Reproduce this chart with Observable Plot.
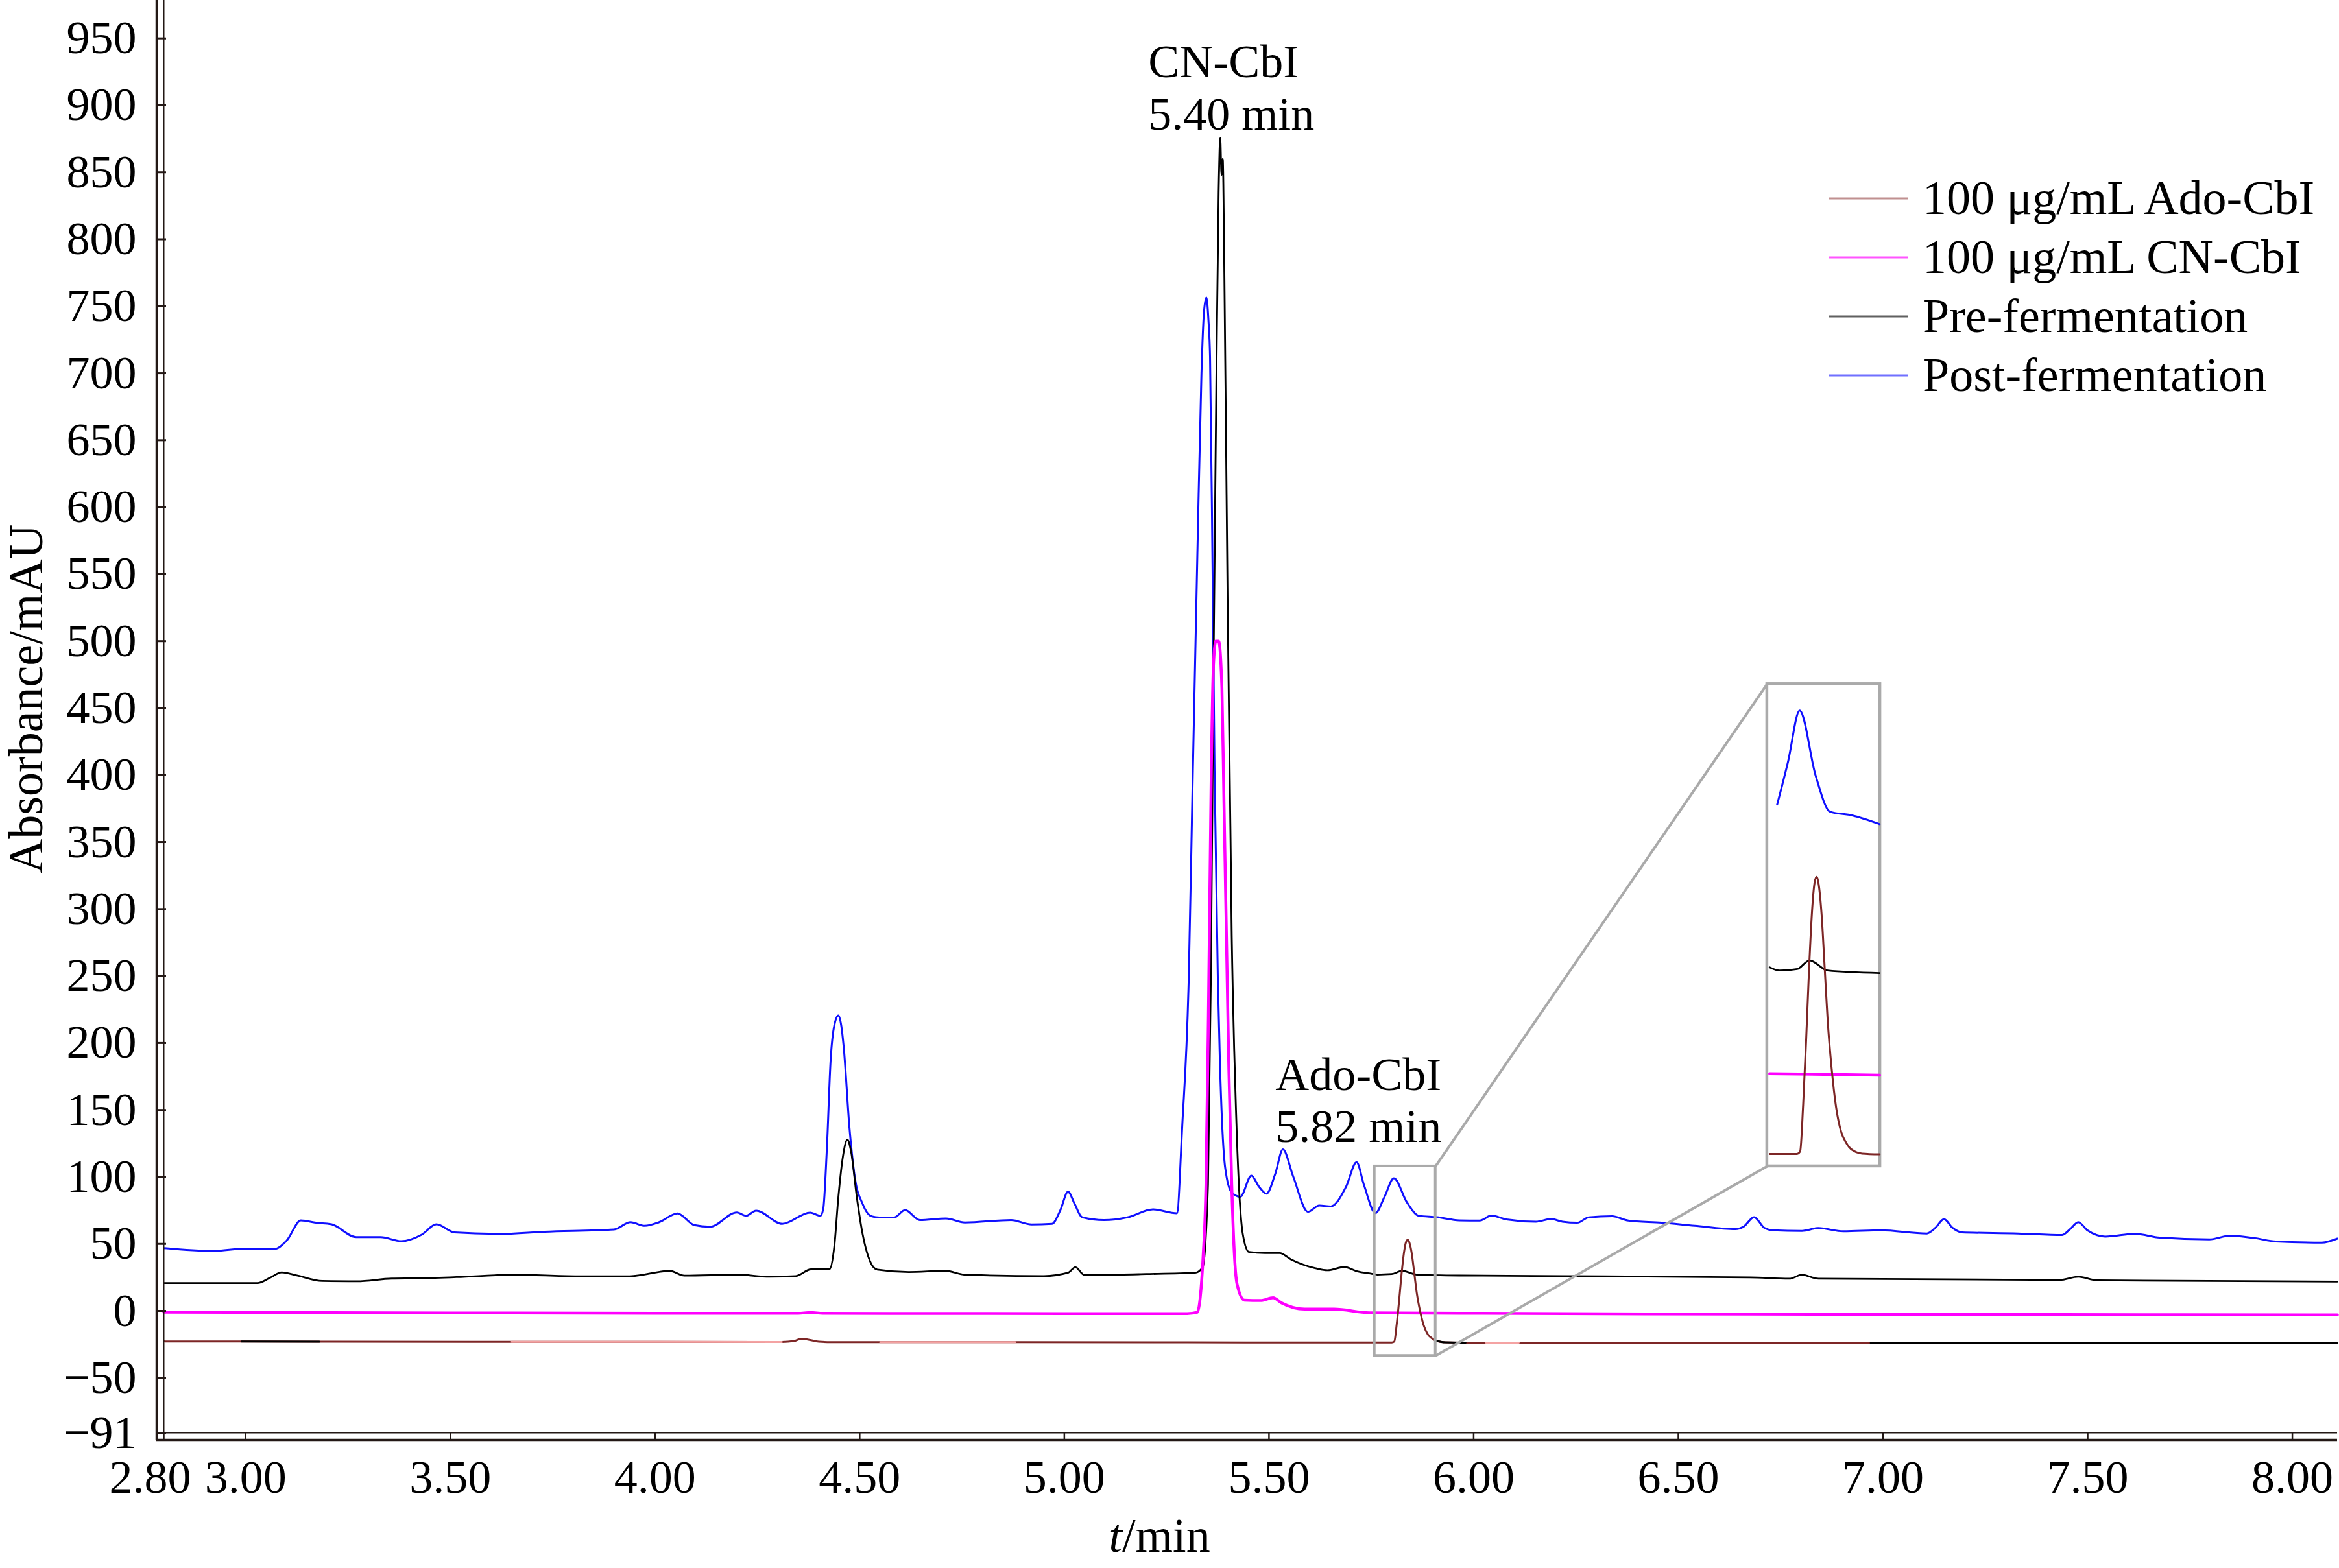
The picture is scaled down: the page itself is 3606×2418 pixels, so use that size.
<!DOCTYPE html>
<html><head><meta charset="utf-8">
<script src="https://cdn.jsdelivr.net/npm/d3@7"></script>
<script src="https://cdn.jsdelivr.net/npm/@observablehq/plot@0.6"></script>
<style>html,body{margin:0;padding:0;background:#fff}</style>
</head><body><div id="chart"></div>
<script>
// ---------- DATA (time in min, absorbance in mAU) ----------
const seriesNames = ["100 μg/mL Ado-CbI", "100 μg/mL CN-CbI", "Pre-fermentation", "Post-fermentation"];
const xTicks = [2.8, 3.0, 3.5, 4.0, 4.5, 5.0, 5.5, 6.0, 6.5, 7.0, 7.5, 8.0];
const yTicks = [-91, -50, 0, 50, 100, 150, 200, 250, 300, 350, 400, 450, 500, 550, 600, 650, 700, 750, 800, 850, 900, 950];

const postFermentation = [[2.80,46.9],[2.92,44.7],[3.00,46.5],[3.07,46.2],[3.10,52.4],[3.135,67.5],[3.175,65.7],[3.21,64.6],[3.27,55.1],[3.33,55.1],[3.38,52.0],[3.43,56.9],[3.466,64.6],[3.51,58.6],[3.62,57.5],[3.73,59.1],[3.90,60.8],[3.94,66.2],[3.975,63.5],[4.01,66.2],[4.055,72.8],[4.096,64.0],[4.134,62.8],[4.20,73.5],[4.222,71.0],[4.247,74.8],[4.311,65.0],[4.379,73.4],[4.404,71.0],[4.411,76.0],[4.420,122],[4.429,187],[4.438,213],[4.448,220.5],[4.455,213],[4.461,197],[4.475,137],[4.488,100],[4.507,80],[4.529,70.6],[4.548,69.7],[4.584,69.7],[4.611,75.3],[4.647,67.8],[4.711,69.0],[4.757,66.0],[4.87,67.8],[4.92,64.5],[4.97,65.0],[4.99,75],[5.009,89],[5.025,80],[5.043,70],[5.097,67.8],[5.156,70],[5.216,75.8],[5.275,72.9],[5.288,137.7],[5.304,249],[5.314,403],[5.325,564],[5.335,700],[5.341,745],[5.347,756.5],[5.352,740],[5.356,712],[5.362,557.6],[5.367,403],[5.375,249],[5.380,187],[5.393,106.8],[5.409,88.3],[5.43,85.2],[5.457,101],[5.475,93],[5.494,87.5],[5.515,102],[5.534,120.5],[5.559,100.5],[5.595,74],[5.623,78.7],[5.651,78],[5.688,92.5],[5.714,111],[5.732,94],[5.76,73],[5.782,85],[5.805,99],[5.837,81],[5.866,71],[5.91,70],[5.965,67.6],[6.015,67.4],[6.043,71.2],[6.08,68.3],[6.152,66.6],[6.189,68.6],[6.217,66.6],[6.253,65.8],[6.281,69.9],[6.338,70.7],[6.378,67.4],[6.459,65.8],[6.54,63.5],[6.639,61],[6.66,63],[6.685,70],[6.71,62],[6.731,60.2],[6.802,59.7],[6.842,61.8],[6.903,59.4],[6.995,60.2],[7.107,57.8],[7.128,62],[7.149,68.5],[7.17,62],[7.193,58.6],[7.33,57.8],[7.437,56.6],[7.457,61],[7.477,66.2],[7.50,60],[7.543,55.5],[7.615,57.5],[7.676,54.7],[7.797,53.4],[7.848,56.2],[7.909,54.3],[7.96,51.8],[8.072,51],[8.11,54]];

const preFermentation = [[2.80,20.8],[3.03,20.8],[3.06,24.8],[3.088,28.8],[3.127,26.3],[3.187,22.3],[3.272,22.1],[3.357,24.1],[3.418,24.3],[3.515,25.2],[3.66,27],[3.805,25.9],[3.939,25.9],[4.036,29.9],[4.072,26.3],[4.20,27],[4.28,25.5],[4.344,26],[4.381,31],[4.426,31],[4.438,48],[4.448,85],[4.458,113],[4.47,127.7],[4.479,119],[4.493,85],[4.507,57.6],[4.525,37.3],[4.543,30.8],[4.62,29],[4.71,29.9],[4.757,27],[4.95,26],[5.009,28.5],[5.027,32.6],[5.048,27],[5.10,27],[5.20,27.5],[5.32,28.5],[5.338,32.7],[5.351,94.5],[5.358,250],[5.364,465],[5.372,712],[5.377,835],[5.381,875.6],[5.384,848],[5.387,860],[5.391,774],[5.399,527],[5.409,280],[5.42,144],[5.436,57.4],[5.451,44],[5.49,43.2],[5.526,43.2],[5.554,38.4],[5.611,32],[5.643,30.3],[5.684,32.8],[5.716,29.5],[5.745,28],[5.765,27.1],[5.80,27.5],[5.825,29.9],[5.861,27.1],[5.965,26.4],[6.217,26],[6.676,25],[6.771,24],[6.802,26.9],[6.842,24],[7.432,23.1],[7.477,25.5],[7.523,22.8],[8.11,21.9]];

const cnCbl = [[2.80,-1],[3.5,-1.5],[4.0,-1.8],[4.35,-1.8],[4.38,-1.2],[4.41,-1.8],[5.0,-2],[5.30,-2],[5.325,-1],[5.332,10],[5.339,40],[5.346,94],[5.352,220],[5.359,403],[5.364,480],[5.370,500],[5.377,500],[5.385,465],[5.390,380],[5.396,280],[5.402,180],[5.409,94],[5.415,45],[5.422,20],[5.44,8],[5.48,7.7],[5.51,9.8],[5.53,6.1],[5.587,1.3],[5.659,1.3],[5.745,-1.4],[5.965,-1.8],[6.676,-2.4],[8.11,-3]];

const adoCbl = [[2.80,-22.8],[2.99,-22.9],[3.18,-23.0],[3.65,-23.1],[4.31,-23.2],[4.34,-22.5],[4.357,-20.8],[4.375,-21.5],[4.40,-23],[4.43,-23.3],[4.55,-23.3],[4.88,-23.4],[5.30,-23.5],[5.745,-23.6],[5.80,-23.6],[5.806,-22.9],[5.812,-10],[5.818,8],[5.824,28],[5.830,44],[5.835,51.5],[5.839,53],[5.843,51],[5.849,42.4],[5.855,28],[5.861,13.4],[5.869,0],[5.878,-10.8],[5.888,-17.5],[5.898,-20.5],[5.91,-22.5],[5.93,-23.5],[5.965,-23.7],[5.98,-23.7],[6.03,-23.7],[6.11,-23.7],[6.97,-24],[8.11,-24.2]];

const peakLabels = ["CN-CbI\n5.40 min", "Ado-CbI\n5.82 min"];
const peakTimes = [5.40, 5.82];
const peakLabelLevels = [882, 126];

// ---------- LAYOUT / STYLE ----------
const W = 3606, H = 2418;
const ml = 252, mr = 3, mt = 0, mb = 209;
const plotW = W - ml - mr, plotH = H - mt - mb;
const FONT = "'Liberation Serif', 'Times New Roman', Times, serif";
const AX = "#231815";
const C = {post: "#1010ff", pre: "#000000", cn: "#ff00ff", ado: "#7d2626"};
const legendColors = ["#c09090", "#ff55ff", "#606060", "#7070ff"];
const labelDx = [-123, -192];
const adoOverlays = [[2.99,3.18,"#000000"],[3.65,4.31,"#f4a3a3"],[4.55,4.88,"#f4a3a3"],[5.91,5.98,"#000000"],[6.03,6.11,"#f4a3a3"],[6.97,8.11,"#000000"]];
// zoomed region and inset placement
const zoomBox = {x1: 5.758, x2: 5.907, y1: -33.5, y2: 108};
const insetBox = {x1: 6.717, x2: 6.993, y1: 108, y2: 468};
const insetSrc = {t0: 5.74, t1: 5.966, v0: -27, ky: 2.7, tmin: 5.745};
const kx = (insetBox.x2 - insetBox.x1) / (insetSrc.t1 - insetSrc.t0);

const toRows = (pairs) => pairs.map(([t, v]) => ({t, v}));
const toInset = (pairs) => pairs
  .filter(([t]) => t >= insetSrc.tmin && t <= insetSrc.t1)
  .map(([t, v]) => ({t: insetBox.x1 + (t - insetSrc.t0) * kx, v: insetBox.y1 + (v - insetSrc.v0) * insetSrc.ky}));

const lineOpts = (stroke, w) => ({x: "t", y: "v", stroke, strokeWidth: w, curve: "monotone-x", strokeLinejoin: "round"});

const series = [
  {pairs: postFermentation, color: C.post, w: 3},
  {pairs: preFermentation, color: C.pre, w: 2.8},
  {pairs: cnCbl, color: C.cn, w: 4.5},
  {pairs: adoCbl, color: C.ado, w: 3}
];

const marks = [];
for (const s of series) marks.push(Plot.line(toRows(s.pairs), lineOpts(s.color, s.w)));
for (const [a, b, col] of adoOverlays) {
  marks.push(Plot.line(toRows(adoCbl.filter(([t]) => t >= a && t <= b)), lineOpts(col, 3)));
}
// inset
marks.push(Plot.rect([zoomBox], {x1: "x1", x2: "x2", y1: "y1", y2: "y2", fill: "none", stroke: "#aaaaaa", strokeWidth: 4}));
marks.push(Plot.rect([insetBox], {x1: "x1", x2: "x2", y1: "y1", y2: "y2", fill: "white", stroke: "#aaaaaa", strokeWidth: 4.5}));
marks.push(Plot.link([
  {x1: zoomBox.x2, y1: zoomBox.y2, x2: insetBox.x1, y2: insetBox.y2},
  {x1: zoomBox.x2, y1: zoomBox.y1, x2: insetBox.x1, y2: insetBox.y1}
], {x1: "x1", y1: "y1", x2: "x2", y2: "y2", stroke: "#aaaaaa", strokeWidth: 4}));
for (const s of series) marks.push(Plot.line(toInset(s.pairs), lineOpts(s.color, s.w)));

// axes: inner lines, outer lines, ticks, labels
marks.push(Plot.ruleX([2.8], {stroke: AX, strokeWidth: 2}));
marks.push(Plot.ruleY([-91], {stroke: AX, strokeWidth: 2}));
marks.push(Plot.ruleX([2.8], {stroke: AX, strokeWidth: 3.5, dx: -11, insetBottom: -11}));
marks.push(Plot.ruleY([-91], {stroke: AX, strokeWidth: 3.5, dy: 11, insetLeft: -11}));
marks.push(Plot.tickY(yTicks, {y: d => d, stroke: AX, strokeWidth: 3, dx: -11, insetRight: plotW - 15}));
marks.push(Plot.tickX(xTicks, {x: d => d, stroke: AX, strokeWidth: 2.5, dy: 11, insetTop: plotH - 11}));
marks.push(Plot.axisY(yTicks, {tickSize: 0, tickPadding: 42, fontSize: 72, label: null, tickFormat: d3.format("d"), fill: "#000"}));
marks.push(Plot.axisX(xTicks.slice(1), {tickSize: 0, tickPadding: 41, fontSize: 72, label: null, tickFormat: d3.format(".2f"), fill: "#000"}));
marks.push(Plot.axisX(xTicks.slice(0, 1), {tickSize: 0, tickPadding: 41, fontSize: 72, label: null, tickFormat: d3.format(".2f"), fill: "#000", dx: -21}));

// axis titles
marks.push(Plot.text(["Absorbance/mAU"], {frameAnchor: "left", text: d => d, rotate: -90, textAnchor: "middle", lineAnchor: "middle", dx: -211, dy: -27, fontSize: 74, fill: "#000"}));
marks.push(Plot.text(["t"], {frameAnchor: "bottom", text: d => d, textAnchor: "end", fontStyle: "italic", dx: -198, dy: 160, lineAnchor: "middle", fontSize: 74, fill: "#000"}));
marks.push(Plot.text(["/min"], {frameAnchor: "bottom", text: d => d, textAnchor: "start", dx: -198, dy: 160, lineAnchor: "middle", fontSize: 74, fill: "#000"}));

// peak annotations
peakLabels.forEach((lab, i) => {
  marks.push(Plot.text([{t: peakTimes[i], v: peakLabelLevels[i], lab}], {x: "t", y: "v", text: "lab", textAnchor: "start", lineAnchor: "bottom", lineHeight: 1.12, fontSize: 72, dx: labelDx[i], fill: "#000"}));
});

// legend
marks.push(() => {
  const g = d3.create("svg:g").attr("font-family", FONT).attr("font-size", 74).attr("text-anchor", "start");
  seriesNames.forEach((name, i) => {
    const yc = 306 + i * 91;
    g.append("line").attr("x1", 2819).attr("x2", 2942).attr("y1", yc).attr("y2", yc)
      .attr("stroke", legendColors[i]).attr("stroke-width", 3);
    g.append("text").attr("x", 2964).attr("y", yc).attr("dy", "0.32em").attr("fill", "#000").attr("text-anchor", "start").text(name);
  });
  return g.node();
});

const chart = Plot.plot({
  width: W, height: H,
  marginLeft: ml, marginRight: mr, marginTop: mt, marginBottom: mb,
  style: {fontFamily: FONT, background: "#fff", color: "#000"},
  x: {domain: [2.8, 8.11]},
  y: {domain: [-91, 978.4]},
  marks
});
document.getElementById("chart").appendChild(chart);
</script>
</body></html>
